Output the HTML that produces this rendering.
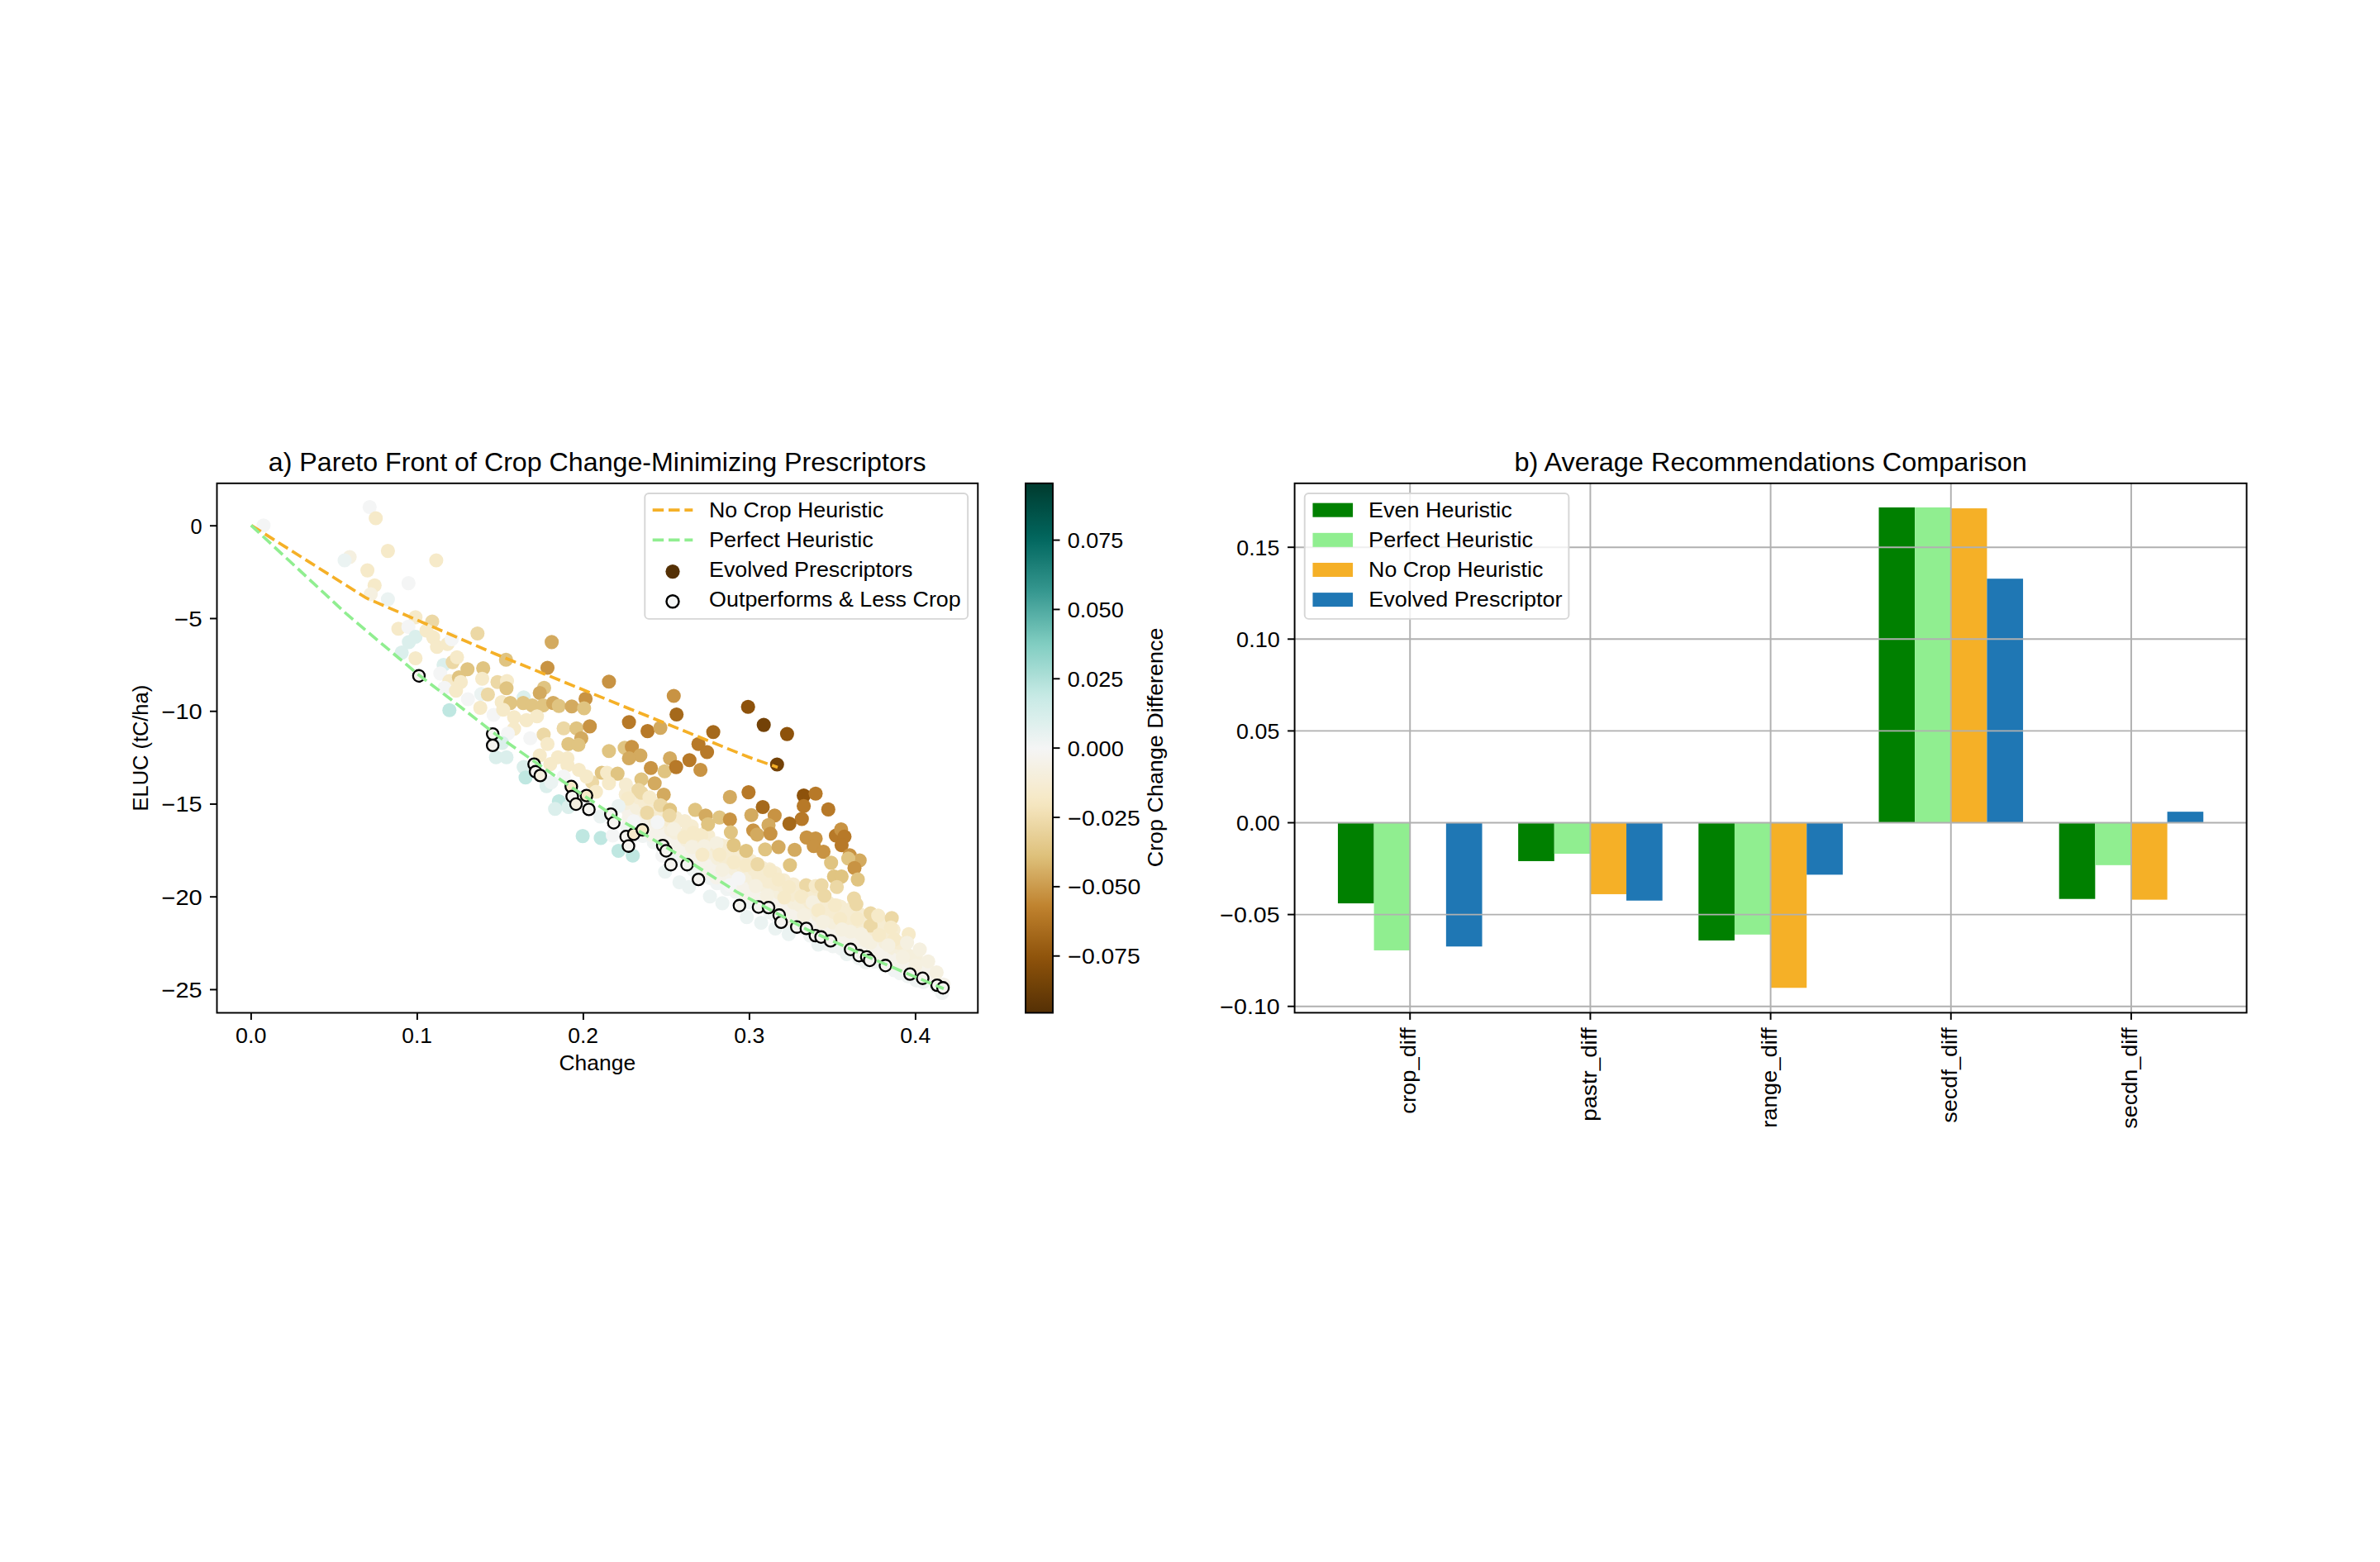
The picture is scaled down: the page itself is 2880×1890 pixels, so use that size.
<!DOCTYPE html><html><head><meta charset="utf-8"><style>html,body{margin:0;padding:0;background:#fff;}svg{display:block;}text{font-family:"Liberation Sans",sans-serif;}</style></head><body>
<svg width="2880" height="1890" viewBox="0 0 2880 1890">
<rect x="0" y="0" width="2880" height="1890" fill="#fff"/>
<defs><clipPath id="c1"><rect x="262.50" y="584.80" width="920.80" height="640.70"/></clipPath>
<linearGradient id="cbg" x1="0" y1="0" x2="0" y2="1"><stop offset="0.0000" stop-color="#003c30"/><stop offset="0.0156" stop-color="#004135"/><stop offset="0.0312" stop-color="#00483d"/><stop offset="0.0469" stop-color="#004e44"/><stop offset="0.0625" stop-color="#01554b"/><stop offset="0.0781" stop-color="#015b52"/><stop offset="0.0938" stop-color="#016259"/><stop offset="0.1094" stop-color="#046961"/><stop offset="0.1250" stop-color="#0c7169"/><stop offset="0.1406" stop-color="#147870"/><stop offset="0.1562" stop-color="#1d8078"/><stop offset="0.1719" stop-color="#258880"/><stop offset="0.1875" stop-color="#2d8f87"/><stop offset="0.2031" stop-color="#35978f"/><stop offset="0.2188" stop-color="#419f97"/><stop offset="0.2344" stop-color="#4da89f"/><stop offset="0.2500" stop-color="#58b0a7"/><stop offset="0.2656" stop-color="#64b9ae"/><stop offset="0.2812" stop-color="#70c1b6"/><stop offset="0.2969" stop-color="#7ccabe"/><stop offset="0.3125" stop-color="#87d0c5"/><stop offset="0.3281" stop-color="#92d4ca"/><stop offset="0.3438" stop-color="#9dd9d0"/><stop offset="0.3594" stop-color="#a8ddd5"/><stop offset="0.3750" stop-color="#b4e2db"/><stop offset="0.3906" stop-color="#bfe7e1"/><stop offset="0.4062" stop-color="#c9eae6"/><stop offset="0.4219" stop-color="#d0ece8"/><stop offset="0.4375" stop-color="#d7eeeb"/><stop offset="0.4531" stop-color="#def0ed"/><stop offset="0.4688" stop-color="#e6f1f0"/><stop offset="0.4844" stop-color="#edf3f2"/><stop offset="0.5000" stop-color="#f4f5f5"/><stop offset="0.5156" stop-color="#f5f3ee"/><stop offset="0.5312" stop-color="#f5f1e6"/><stop offset="0.5469" stop-color="#f5efde"/><stop offset="0.5625" stop-color="#f6edd7"/><stop offset="0.5781" stop-color="#f6ebcf"/><stop offset="0.5938" stop-color="#f6e9c7"/><stop offset="0.6094" stop-color="#f4e5be"/><stop offset="0.6250" stop-color="#f1dfb3"/><stop offset="0.6406" stop-color="#edd9a8"/><stop offset="0.6562" stop-color="#e9d39d"/><stop offset="0.6719" stop-color="#e6cd92"/><stop offset="0.6875" stop-color="#e2c787"/><stop offset="0.7031" stop-color="#dec17b"/><stop offset="0.7188" stop-color="#d9b76f"/><stop offset="0.7344" stop-color="#d4ac62"/><stop offset="0.7500" stop-color="#cfa256"/><stop offset="0.7656" stop-color="#ca9849"/><stop offset="0.7812" stop-color="#c58e3d"/><stop offset="0.7969" stop-color="#c08430"/><stop offset="0.8125" stop-color="#b97b29"/><stop offset="0.8281" stop-color="#b17423"/><stop offset="0.8438" stop-color="#a96c1e"/><stop offset="0.8594" stop-color="#a16518"/><stop offset="0.8750" stop-color="#995d13"/><stop offset="0.8906" stop-color="#91560d"/><stop offset="0.9062" stop-color="#894f0a"/><stop offset="0.9219" stop-color="#804a09"/><stop offset="0.9375" stop-color="#774508"/><stop offset="0.9531" stop-color="#6e4007"/><stop offset="0.9688" stop-color="#663a07"/><stop offset="0.9844" stop-color="#5d3506"/><stop offset="1.0000" stop-color="#543005"/></linearGradient></defs>
<g clip-path="url(#c1)">
<circle cx="758.9" cy="999.6" r="8.55" fill="#f0f4f3"/>
<circle cx="760.9" cy="989.2" r="8.55" fill="#f5f2ea"/>
<circle cx="760.2" cy="980.9" r="8.55" fill="#f5f2ea"/>
<circle cx="757.3" cy="971.8" r="8.55" fill="#f5efdc"/>
<circle cx="757.2" cy="961.3" r="8.55" fill="#f6ecd1"/>
<circle cx="757.4" cy="949.3" r="8.55" fill="#f6ecd1"/>
<circle cx="769.5" cy="1009.7" r="8.55" fill="#f0f4f3"/>
<circle cx="767.7" cy="996.0" r="8.55" fill="#f5f2ea"/>
<circle cx="770.8" cy="990.4" r="8.55" fill="#f5f2ea"/>
<circle cx="770.5" cy="977.1" r="8.55" fill="#f5efdc"/>
<circle cx="772.9" cy="965.0" r="8.55" fill="#f6ecd1"/>
<circle cx="772.2" cy="956.4" r="8.55" fill="#f6ecd1"/>
<circle cx="777.9" cy="1011.4" r="8.55" fill="#f0f4f3"/>
<circle cx="778.9" cy="1005.5" r="8.55" fill="#f5f2ea"/>
<circle cx="778.1" cy="994.1" r="8.55" fill="#f5f2ea"/>
<circle cx="780.8" cy="982.9" r="8.55" fill="#f5efdc"/>
<circle cx="780.3" cy="971.0" r="8.55" fill="#f6ecd1"/>
<circle cx="777.4" cy="961.9" r="8.55" fill="#f6ecd1"/>
<circle cx="791.1" cy="1019.2" r="8.55" fill="#f0f4f3"/>
<circle cx="788.9" cy="1010.1" r="8.55" fill="#f5f2ea"/>
<circle cx="789.7" cy="998.4" r="8.55" fill="#f5f2ea"/>
<circle cx="791.8" cy="990.8" r="8.55" fill="#f5efdc"/>
<circle cx="788.5" cy="980.1" r="8.55" fill="#f6ecd1"/>
<circle cx="790.2" cy="971.9" r="8.55" fill="#f6ecd1"/>
<circle cx="801.4" cy="1024.3" r="8.55" fill="#f0f4f3"/>
<circle cx="802.9" cy="1013.3" r="8.55" fill="#f5f2ea"/>
<circle cx="799.5" cy="1007.1" r="8.55" fill="#f5f2ea"/>
<circle cx="797.9" cy="995.5" r="8.55" fill="#f5efdc"/>
<circle cx="797.2" cy="986.6" r="8.55" fill="#f6ecd1"/>
<circle cx="801.6" cy="976.0" r="8.55" fill="#f6ecd1"/>
<circle cx="812.3" cy="1030.4" r="8.55" fill="#f0f4f3"/>
<circle cx="811.2" cy="1022.1" r="8.55" fill="#f5f2ea"/>
<circle cx="810.5" cy="1011.3" r="8.55" fill="#f5f2ea"/>
<circle cx="812.0" cy="1004.2" r="8.55" fill="#f5efdc"/>
<circle cx="809.8" cy="992.5" r="8.55" fill="#f6ecd1"/>
<circle cx="807.4" cy="982.7" r="8.55" fill="#f6ecd1"/>
<circle cx="820.9" cy="1040.6" r="8.55" fill="#f0f4f3"/>
<circle cx="821.9" cy="1026.4" r="8.55" fill="#f5f2ea"/>
<circle cx="819.3" cy="1018.7" r="8.55" fill="#f5f2ea"/>
<circle cx="817.1" cy="1007.4" r="8.55" fill="#f5efdc"/>
<circle cx="818.0" cy="995.4" r="8.55" fill="#f6ecd1"/>
<circle cx="817.4" cy="989.3" r="8.55" fill="#f6ecd1"/>
<circle cx="827.8" cy="1042.5" r="8.55" fill="#f0f4f3"/>
<circle cx="829.3" cy="1036.2" r="8.55" fill="#f5f2ea"/>
<circle cx="827.5" cy="1023.7" r="8.55" fill="#f5f2ea"/>
<circle cx="830.3" cy="1016.3" r="8.55" fill="#f5efdc"/>
<circle cx="831.9" cy="1006.2" r="8.55" fill="#f6ecd1"/>
<circle cx="828.7" cy="993.5" r="8.55" fill="#f6ecd1"/>
<circle cx="839.2" cy="1052.7" r="8.55" fill="#f0f4f3"/>
<circle cx="842.7" cy="1038.3" r="8.55" fill="#f5f2ea"/>
<circle cx="838.1" cy="1028.8" r="8.55" fill="#f5f2ea"/>
<circle cx="838.4" cy="1020.3" r="8.55" fill="#f5efdc"/>
<circle cx="840.5" cy="1009.0" r="8.55" fill="#f6ecd1"/>
<circle cx="837.0" cy="999.9" r="8.55" fill="#f6ecd1"/>
<circle cx="849.2" cy="1057.1" r="8.55" fill="#f0f4f3"/>
<circle cx="852.7" cy="1047.9" r="8.55" fill="#f5f2ea"/>
<circle cx="850.1" cy="1037.4" r="8.55" fill="#f5f2ea"/>
<circle cx="851.1" cy="1024.1" r="8.55" fill="#f5efdc"/>
<circle cx="852.4" cy="1018.4" r="8.55" fill="#f6ecd1"/>
<circle cx="852.2" cy="1008.5" r="8.55" fill="#f6ecd1"/>
<circle cx="859.4" cy="1062.5" r="8.55" fill="#f0f4f3"/>
<circle cx="857.6" cy="1053.9" r="8.55" fill="#f5f2ea"/>
<circle cx="857.4" cy="1040.5" r="8.55" fill="#f5f2ea"/>
<circle cx="858.3" cy="1031.1" r="8.55" fill="#f5efdc"/>
<circle cx="859.0" cy="1020.4" r="8.55" fill="#f6ecd1"/>
<circle cx="857.0" cy="1011.0" r="8.55" fill="#f6ecd1"/>
<circle cx="867.6" cy="1068.6" r="8.55" fill="#f0f4f3"/>
<circle cx="867.2" cy="1061.7" r="8.55" fill="#f5f2ea"/>
<circle cx="870.7" cy="1047.3" r="8.55" fill="#f5f2ea"/>
<circle cx="868.5" cy="1038.5" r="8.55" fill="#f5efdc"/>
<circle cx="869.2" cy="1027.2" r="8.55" fill="#f6ecd1"/>
<circle cx="872.1" cy="1022.4" r="8.55" fill="#f6ecd1"/>
<circle cx="879.8" cy="1075.7" r="8.55" fill="#f0f4f3"/>
<circle cx="877.5" cy="1063.4" r="8.55" fill="#f5f2ea"/>
<circle cx="879.1" cy="1054.4" r="8.55" fill="#f5f2ea"/>
<circle cx="882.0" cy="1043.8" r="8.55" fill="#f5efdc"/>
<circle cx="877.1" cy="1038.5" r="8.55" fill="#f6ecd1"/>
<circle cx="880.2" cy="1023.7" r="8.55" fill="#f6ecd1"/>
<circle cx="890.3" cy="1079.3" r="8.55" fill="#f0f4f3"/>
<circle cx="890.2" cy="1075.0" r="8.55" fill="#f5f2ea"/>
<circle cx="892.2" cy="1063.4" r="8.55" fill="#f5f2ea"/>
<circle cx="888.6" cy="1051.4" r="8.55" fill="#f5efdc"/>
<circle cx="888.0" cy="1043.8" r="8.55" fill="#f6ecd1"/>
<circle cx="890.2" cy="1033.8" r="8.55" fill="#f6ecd1"/>
<circle cx="899.0" cy="1086.0" r="8.55" fill="#f0f4f3"/>
<circle cx="901.9" cy="1080.6" r="8.55" fill="#f5f2ea"/>
<circle cx="902.1" cy="1069.5" r="8.55" fill="#f5f2ea"/>
<circle cx="901.9" cy="1059.1" r="8.55" fill="#f5efdc"/>
<circle cx="898.4" cy="1047.8" r="8.55" fill="#f6ecd1"/>
<circle cx="899.1" cy="1034.8" r="8.55" fill="#f6ecd1"/>
<circle cx="907.2" cy="1091.7" r="8.55" fill="#f0f4f3"/>
<circle cx="908.6" cy="1084.2" r="8.55" fill="#f5f2ea"/>
<circle cx="912.7" cy="1072.7" r="8.55" fill="#f5f2ea"/>
<circle cx="912.6" cy="1066.0" r="8.55" fill="#f5efdc"/>
<circle cx="912.7" cy="1052.2" r="8.55" fill="#f6ecd1"/>
<circle cx="908.3" cy="1041.4" r="8.55" fill="#f6ecd1"/>
<circle cx="918.2" cy="1096.6" r="8.55" fill="#f0f4f3"/>
<circle cx="920.7" cy="1090.8" r="8.55" fill="#f5f2ea"/>
<circle cx="922.0" cy="1078.3" r="8.55" fill="#f5f2ea"/>
<circle cx="920.9" cy="1070.2" r="8.55" fill="#f5efdc"/>
<circle cx="917.5" cy="1059.4" r="8.55" fill="#f6ecd1"/>
<circle cx="922.5" cy="1050.1" r="8.55" fill="#f6ecd1"/>
<circle cx="931.5" cy="1103.6" r="8.55" fill="#f0f4f3"/>
<circle cx="928.1" cy="1095.5" r="8.55" fill="#f5f2ea"/>
<circle cx="929.0" cy="1085.6" r="8.55" fill="#f5f2ea"/>
<circle cx="932.8" cy="1073.1" r="8.55" fill="#f5efdc"/>
<circle cx="929.4" cy="1066.4" r="8.55" fill="#f6ecd1"/>
<circle cx="931.3" cy="1051.8" r="8.55" fill="#f6ecd1"/>
<circle cx="937.8" cy="1107.0" r="8.55" fill="#f0f4f3"/>
<circle cx="942.4" cy="1101.0" r="8.55" fill="#f5f2ea"/>
<circle cx="937.9" cy="1091.1" r="8.55" fill="#f5f2ea"/>
<circle cx="942.9" cy="1080.1" r="8.55" fill="#f5efdc"/>
<circle cx="939.1" cy="1069.4" r="8.55" fill="#f6ecd1"/>
<circle cx="937.8" cy="1056.2" r="8.55" fill="#f6ecd1"/>
<circle cx="952.8" cy="1115.4" r="8.55" fill="#f0f4f3"/>
<circle cx="950.2" cy="1107.1" r="8.55" fill="#f5f2ea"/>
<circle cx="949.6" cy="1096.7" r="8.55" fill="#f5f2ea"/>
<circle cx="952.0" cy="1082.8" r="8.55" fill="#f5efdc"/>
<circle cx="948.5" cy="1073.2" r="8.55" fill="#f6ecd1"/>
<circle cx="948.4" cy="1065.0" r="8.55" fill="#f6ecd1"/>
<circle cx="958.6" cy="1119.4" r="8.55" fill="#f0f4f3"/>
<circle cx="957.8" cy="1112.3" r="8.55" fill="#f5f2ea"/>
<circle cx="959.1" cy="1099.6" r="8.55" fill="#f5f2ea"/>
<circle cx="960.5" cy="1092.3" r="8.55" fill="#f5efdc"/>
<circle cx="959.5" cy="1082.4" r="8.55" fill="#f6ecd1"/>
<circle cx="960.0" cy="1070.0" r="8.55" fill="#f6ecd1"/>
<circle cx="970.1" cy="1122.3" r="8.55" fill="#f0f4f3"/>
<circle cx="969.6" cy="1113.3" r="8.55" fill="#f5f2ea"/>
<circle cx="967.0" cy="1107.0" r="8.55" fill="#f5f2ea"/>
<circle cx="968.0" cy="1095.1" r="8.55" fill="#f5efdc"/>
<circle cx="971.4" cy="1085.6" r="8.55" fill="#f6ecd1"/>
<circle cx="969.0" cy="1075.3" r="8.55" fill="#f6ecd1"/>
<circle cx="980.3" cy="1132.0" r="8.55" fill="#f0f4f3"/>
<circle cx="977.6" cy="1120.6" r="8.55" fill="#f5f2ea"/>
<circle cx="978.5" cy="1108.9" r="8.55" fill="#f5f2ea"/>
<circle cx="981.6" cy="1100.3" r="8.55" fill="#f5efdc"/>
<circle cx="980.4" cy="1091.8" r="8.55" fill="#f6ecd1"/>
<circle cx="982.5" cy="1079.9" r="8.55" fill="#f6ecd1"/>
<circle cx="990.7" cy="1134.8" r="8.55" fill="#f0f4f3"/>
<circle cx="990.1" cy="1125.9" r="8.55" fill="#f5f2ea"/>
<circle cx="989.7" cy="1114.9" r="8.55" fill="#f5f2ea"/>
<circle cx="989.9" cy="1107.4" r="8.55" fill="#f5efdc"/>
<circle cx="991.2" cy="1097.0" r="8.55" fill="#f6ecd1"/>
<circle cx="992.7" cy="1083.3" r="8.55" fill="#f6ecd1"/>
<circle cx="1000.4" cy="1141.9" r="8.55" fill="#f0f4f3"/>
<circle cx="1002.0" cy="1127.0" r="8.55" fill="#f5f2ea"/>
<circle cx="997.7" cy="1118.8" r="8.55" fill="#f5f2ea"/>
<circle cx="997.4" cy="1107.6" r="8.55" fill="#f5efdc"/>
<circle cx="997.4" cy="1100.2" r="8.55" fill="#f6ecd1"/>
<circle cx="1001.7" cy="1091.6" r="8.55" fill="#f6ecd1"/>
<circle cx="1007.9" cy="1145.0" r="8.55" fill="#f0f4f3"/>
<circle cx="1011.0" cy="1131.5" r="8.55" fill="#f5f2ea"/>
<circle cx="1012.3" cy="1126.5" r="8.55" fill="#f5f2ea"/>
<circle cx="1008.3" cy="1116.4" r="8.55" fill="#f5efdc"/>
<circle cx="1009.4" cy="1103.6" r="8.55" fill="#f6ecd1"/>
<circle cx="1012.9" cy="1095.7" r="8.55" fill="#f6ecd1"/>
<circle cx="1018.0" cy="1147.7" r="8.55" fill="#f0f4f3"/>
<circle cx="1020.1" cy="1137.2" r="8.55" fill="#f5f2ea"/>
<circle cx="1018.2" cy="1127.0" r="8.55" fill="#f5f2ea"/>
<circle cx="1021.3" cy="1115.2" r="8.55" fill="#f5efdc"/>
<circle cx="1020.3" cy="1107.8" r="8.55" fill="#f6ecd1"/>
<circle cx="1017.1" cy="1097.1" r="8.55" fill="#f6ecd1"/>
<circle cx="1030.7" cy="1152.7" r="8.55" fill="#f0f4f3"/>
<circle cx="1027.4" cy="1145.5" r="8.55" fill="#f5f2ea"/>
<circle cx="1031.7" cy="1135.4" r="8.55" fill="#f5f2ea"/>
<circle cx="1027.6" cy="1121.2" r="8.55" fill="#f5efdc"/>
<circle cx="1027.2" cy="1114.3" r="8.55" fill="#f6ecd1"/>
<circle cx="1028.6" cy="1100.4" r="8.55" fill="#f6ecd1"/>
<circle cx="1039.5" cy="1159.5" r="8.55" fill="#f0f4f3"/>
<circle cx="1041.9" cy="1145.6" r="8.55" fill="#f5f2ea"/>
<circle cx="1037.9" cy="1139.6" r="8.55" fill="#f5f2ea"/>
<circle cx="1040.4" cy="1128.3" r="8.55" fill="#f5efdc"/>
<circle cx="1037.5" cy="1114.4" r="8.55" fill="#f6ecd1"/>
<circle cx="1041.1" cy="1106.6" r="8.55" fill="#f6ecd1"/>
<circle cx="1047.4" cy="1164.2" r="8.55" fill="#f0f4f3"/>
<circle cx="1050.8" cy="1153.3" r="8.55" fill="#f5f2ea"/>
<circle cx="1047.5" cy="1143.7" r="8.55" fill="#f5f2ea"/>
<circle cx="1047.4" cy="1133.7" r="8.55" fill="#f5efdc"/>
<circle cx="1049.7" cy="1120.6" r="8.55" fill="#f6ecd1"/>
<circle cx="1050.3" cy="1114.1" r="8.55" fill="#f6ecd1"/>
<circle cx="1058.6" cy="1163.6" r="8.55" fill="#f0f4f3"/>
<circle cx="1060.2" cy="1154.3" r="8.55" fill="#f5f2ea"/>
<circle cx="1057.7" cy="1143.8" r="8.55" fill="#f5f2ea"/>
<circle cx="1057.3" cy="1134.1" r="8.55" fill="#f5efdc"/>
<circle cx="1058.9" cy="1124.7" r="8.55" fill="#f6ecd1"/>
<circle cx="1061.6" cy="1114.6" r="8.55" fill="#f6ecd1"/>
<circle cx="1070.0" cy="1168.2" r="8.55" fill="#f0f4f3"/>
<circle cx="1069.1" cy="1157.2" r="8.55" fill="#f5f2ea"/>
<circle cx="1068.5" cy="1147.2" r="8.55" fill="#f5f2ea"/>
<circle cx="1071.4" cy="1140.4" r="8.55" fill="#f5efdc"/>
<circle cx="1068.1" cy="1130.0" r="8.55" fill="#f6ecd1"/>
<circle cx="1072.6" cy="1117.8" r="8.55" fill="#f6ecd1"/>
<circle cx="1081.9" cy="1174.0" r="8.55" fill="#f0f4f3"/>
<circle cx="1080.0" cy="1166.4" r="8.55" fill="#f5f2ea"/>
<circle cx="1079.4" cy="1154.4" r="8.55" fill="#f5f2ea"/>
<circle cx="1081.1" cy="1147.3" r="8.55" fill="#f5efdc"/>
<circle cx="1079.1" cy="1136.4" r="8.55" fill="#f6ecd1"/>
<circle cx="1081.2" cy="1125.2" r="8.55" fill="#f6ecd1"/>
<circle cx="1089.4" cy="1177.7" r="8.55" fill="#f0f4f3"/>
<circle cx="1087.3" cy="1166.4" r="8.55" fill="#f5f2ea"/>
<circle cx="1087.4" cy="1160.1" r="8.55" fill="#f5f2ea"/>
<circle cx="1088.5" cy="1146.6" r="8.55" fill="#f5efdc"/>
<circle cx="1087.5" cy="1140.7" r="8.55" fill="#f6ecd1"/>
<circle cx="1098.7" cy="1181.3" r="8.55" fill="#f0f4f3"/>
<circle cx="1098.8" cy="1172.6" r="8.55" fill="#f5f2ea"/>
<circle cx="1097.9" cy="1162.6" r="8.55" fill="#f5f2ea"/>
<circle cx="1098.6" cy="1155.6" r="8.55" fill="#f5efdc"/>
<circle cx="1108.9" cy="1186.2" r="8.55" fill="#f0f4f3"/>
<circle cx="1107.0" cy="1176.3" r="8.55" fill="#f5f2ea"/>
<circle cx="1109.8" cy="1167.1" r="8.55" fill="#f5f2ea"/>
<circle cx="1108.2" cy="1157.1" r="8.55" fill="#f5efdc"/>
<circle cx="1117.3" cy="1188.3" r="8.55" fill="#f0f4f3"/>
<circle cx="1118.8" cy="1179.6" r="8.55" fill="#f5f2ea"/>
<circle cx="1120.5" cy="1171.4" r="8.55" fill="#f5f2ea"/>
<circle cx="1132.9" cy="1193.2" r="8.55" fill="#f0f4f3"/>
<circle cx="1131.3" cy="1186.2" r="8.55" fill="#f5f2ea"/>
<circle cx="1127.3" cy="1177.3" r="8.55" fill="#f5f2ea"/>
<circle cx="1140.0" cy="1201.5" r="8.55" fill="#f0f4f3"/>
<circle cx="1141.8" cy="1191.4" r="8.55" fill="#f5f2ea"/>
<circle cx="318.9" cy="635.7" r="8.55" fill="#f4f5f5"/>
<circle cx="447.3" cy="613.5" r="8.55" fill="#f4f5f5"/>
<circle cx="454.7" cy="627.0" r="8.55" fill="#f6eac9"/>
<circle cx="469.4" cy="666.6" r="8.55" fill="#f6eac9"/>
<circle cx="423.1" cy="674.0" r="8.55" fill="#f5f0e0"/>
<circle cx="417.0" cy="678.0" r="8.55" fill="#ebf3f2"/>
<circle cx="527.9" cy="678.0" r="8.55" fill="#f6eac9"/>
<circle cx="444.6" cy="690.1" r="8.55" fill="#f6eac9"/>
<circle cx="494.3" cy="705.6" r="8.55" fill="#f4f5f5"/>
<circle cx="453.3" cy="708.3" r="8.55" fill="#f6eac9"/>
<circle cx="448.6" cy="719.0" r="8.55" fill="#f5f0e0"/>
<circle cx="469.4" cy="725.1" r="8.55" fill="#ebf3f2"/>
<circle cx="502.8" cy="746.9" r="8.55" fill="#f6eac9"/>
<circle cx="523.0" cy="752.1" r="8.55" fill="#ecd8a5"/>
<circle cx="482.1" cy="760.7" r="8.55" fill="#f6eac9"/>
<circle cx="494.2" cy="758.4" r="8.55" fill="#f4f5f5"/>
<circle cx="502.8" cy="770.5" r="8.55" fill="#dbefec"/>
<circle cx="494.8" cy="776.9" r="8.55" fill="#dbefec"/>
<circle cx="486.1" cy="789.6" r="8.55" fill="#dbefec"/>
<circle cx="516.1" cy="763.0" r="8.55" fill="#f6eac9"/>
<circle cx="524.2" cy="771.1" r="8.55" fill="#f6eac9"/>
<circle cx="528.8" cy="782.6" r="8.55" fill="#f6eac9"/>
<circle cx="541.5" cy="779.2" r="8.55" fill="#f6eac9"/>
<circle cx="546.6" cy="773.4" r="8.55" fill="#f4f5f5"/>
<circle cx="502.8" cy="796.5" r="8.55" fill="#f6eac9"/>
<circle cx="577.8" cy="766.5" r="8.55" fill="#ecd8a5"/>
<circle cx="667.6" cy="776.9" r="8.55" fill="#d3aa5f"/>
<circle cx="612.3" cy="798.2" r="8.55" fill="#e0c481"/>
<circle cx="662.5" cy="808.0" r="8.55" fill="#c89343"/>
<circle cx="536.8" cy="804.5" r="8.55" fill="#dbefec"/>
<circle cx="547.8" cy="801.1" r="8.55" fill="#ecd8a5"/>
<circle cx="553.0" cy="795.3" r="8.55" fill="#f6eac9"/>
<circle cx="565.7" cy="809.7" r="8.55" fill="#e0c481"/>
<circle cx="584.7" cy="808.6" r="8.55" fill="#e0c481"/>
<circle cx="532.8" cy="814.9" r="8.55" fill="#f4f5f5"/>
<circle cx="543.8" cy="824.1" r="8.55" fill="#f6eac9"/>
<circle cx="555.3" cy="819.5" r="8.55" fill="#e0c481"/>
<circle cx="557.6" cy="825.3" r="8.55" fill="#f6eac9"/>
<circle cx="583.5" cy="821.2" r="8.55" fill="#f6eac9"/>
<circle cx="602.0" cy="825.3" r="8.55" fill="#ecd8a5"/>
<circle cx="613.5" cy="824.1" r="8.55" fill="#f6eac9"/>
<circle cx="612.9" cy="832.8" r="8.55" fill="#e0c481"/>
<circle cx="658.4" cy="832.2" r="8.55" fill="#e0c481"/>
<circle cx="653.2" cy="838.5" r="8.55" fill="#d3aa5f"/>
<circle cx="538.0" cy="832.2" r="8.55" fill="#f4f5f5"/>
<circle cx="551.8" cy="835.7" r="8.55" fill="#f6eac9"/>
<circle cx="582.4" cy="839.7" r="8.55" fill="#ebf3f2"/>
<circle cx="590.4" cy="840.3" r="8.55" fill="#ecd8a5"/>
<circle cx="566.2" cy="846.0" r="8.55" fill="#f4f5f5"/>
<circle cx="581.2" cy="856.4" r="8.55" fill="#f6eac9"/>
<circle cx="607.1" cy="849.5" r="8.55" fill="#f6eac9"/>
<circle cx="617.5" cy="850.6" r="8.55" fill="#e0c481"/>
<circle cx="633.7" cy="843.7" r="8.55" fill="#dbefec"/>
<circle cx="633.1" cy="850.6" r="8.55" fill="#e0c481"/>
<circle cx="644.0" cy="853.5" r="8.55" fill="#e0c481"/>
<circle cx="657.3" cy="853.5" r="8.55" fill="#e0c481"/>
<circle cx="669.4" cy="850.6" r="8.55" fill="#d3aa5f"/>
<circle cx="676.3" cy="854.1" r="8.55" fill="#e0c481"/>
<circle cx="691.9" cy="854.7" r="8.55" fill="#d3aa5f"/>
<circle cx="708.6" cy="845.5" r="8.55" fill="#c89343"/>
<circle cx="706.8" cy="857.0" r="8.55" fill="#e0c481"/>
<circle cx="543.8" cy="859.3" r="8.55" fill="#bfe7e1"/>
<circle cx="597.3" cy="865.0" r="8.55" fill="#f4f5f5"/>
<circle cx="608.9" cy="858.7" r="8.55" fill="#f6eac9"/>
<circle cx="622.1" cy="867.9" r="8.55" fill="#f6eac9"/>
<circle cx="637.1" cy="871.4" r="8.55" fill="#f6eac9"/>
<circle cx="649.8" cy="866.8" r="8.55" fill="#f6eac9"/>
<circle cx="622.1" cy="881.8" r="8.55" fill="#f6eac9"/>
<circle cx="614.6" cy="887.5" r="8.55" fill="#f4f5f5"/>
<circle cx="641.7" cy="893.3" r="8.55" fill="#f4f5f5"/>
<circle cx="657.9" cy="888.7" r="8.55" fill="#ecd8a5"/>
<circle cx="662.5" cy="900.2" r="8.55" fill="#f6eac9"/>
<circle cx="682.1" cy="881.2" r="8.55" fill="#ecd8a5"/>
<circle cx="697.6" cy="881.2" r="8.55" fill="#e0c481"/>
<circle cx="713.7" cy="878.9" r="8.55" fill="#c89343"/>
<circle cx="703.4" cy="893.3" r="8.55" fill="#d3aa5f"/>
<circle cx="687.8" cy="900.2" r="8.55" fill="#e0c481"/>
<circle cx="699.9" cy="901.3" r="8.55" fill="#e0c481"/>
<circle cx="600.2" cy="916.3" r="8.55" fill="#dbefec"/>
<circle cx="612.9" cy="916.3" r="8.55" fill="#dbefec"/>
<circle cx="607.7" cy="899.0" r="8.55" fill="#dbefec"/>
<circle cx="653.2" cy="914.0" r="8.55" fill="#f6eac9"/>
<circle cx="675.1" cy="916.3" r="8.55" fill="#f6eac9"/>
<circle cx="686.7" cy="917.5" r="8.55" fill="#f6eac9"/>
<circle cx="736.9" cy="824.7" r="8.55" fill="#c89343"/>
<circle cx="815.3" cy="842.0" r="8.55" fill="#c89343"/>
<circle cx="818.7" cy="864.5" r="8.55" fill="#a5691b"/>
<circle cx="761.1" cy="873.7" r="8.55" fill="#b77928"/>
<circle cx="783.6" cy="884.6" r="8.55" fill="#b77928"/>
<circle cx="799.1" cy="880.6" r="8.55" fill="#d3aa5f"/>
<circle cx="905.2" cy="855.2" r="8.55" fill="#8d520b"/>
<circle cx="924.2" cy="877.1" r="8.55" fill="#734208"/>
<circle cx="952.4" cy="888.1" r="8.55" fill="#8d520b"/>
<circle cx="863.1" cy="885.8" r="8.55" fill="#a5691b"/>
<circle cx="845.2" cy="900.2" r="8.55" fill="#b77928"/>
<circle cx="855.6" cy="910.0" r="8.55" fill="#b77928"/>
<circle cx="736.9" cy="908.8" r="8.55" fill="#e0c481"/>
<circle cx="755.9" cy="904.8" r="8.55" fill="#e0c481"/>
<circle cx="764.6" cy="903.7" r="8.55" fill="#c89343"/>
<circle cx="774.9" cy="914.0" r="8.55" fill="#d3aa5f"/>
<circle cx="761.1" cy="917.5" r="8.55" fill="#d3aa5f"/>
<circle cx="810.7" cy="917.5" r="8.55" fill="#d3aa5f"/>
<circle cx="834.3" cy="919.8" r="8.55" fill="#b77928"/>
<circle cx="940.3" cy="925.0" r="8.55" fill="#734208"/>
<circle cx="633.7" cy="928.1" r="8.55" fill="#dbefec"/>
<circle cx="636.0" cy="940.7" r="8.55" fill="#bfe7e1"/>
<circle cx="661.3" cy="951.1" r="8.55" fill="#dbefec"/>
<circle cx="676.3" cy="969.6" r="8.55" fill="#bfe7e1"/>
<circle cx="671.7" cy="978.8" r="8.55" fill="#dbefec"/>
<circle cx="687.8" cy="976.5" r="8.55" fill="#dbefec"/>
<circle cx="705.1" cy="1011.6" r="8.55" fill="#bfe7e1"/>
<circle cx="727.0" cy="1013.9" r="8.55" fill="#bfe7e1"/>
<circle cx="726.4" cy="988.0" r="8.55" fill="#ebf3f2"/>
<circle cx="665.9" cy="924.6" r="8.55" fill="#f6eac9"/>
<circle cx="686.7" cy="925.8" r="8.55" fill="#f6eac9"/>
<circle cx="700.5" cy="931.5" r="8.55" fill="#f6eac9"/>
<circle cx="716.6" cy="946.5" r="8.55" fill="#ecd8a5"/>
<circle cx="728.2" cy="935.0" r="8.55" fill="#e0c481"/>
<circle cx="682.1" cy="939.6" r="8.55" fill="#f4f5f5"/>
<circle cx="721.2" cy="958.0" r="8.55" fill="#f6eac9"/>
<circle cx="709.7" cy="939.6" r="8.55" fill="#f6eac9"/>
<circle cx="667.1" cy="946.5" r="8.55" fill="#ebf3f2"/>
<circle cx="734.6" cy="935.0" r="8.55" fill="#f6eac9"/>
<circle cx="747.3" cy="936.1" r="8.55" fill="#e0c481"/>
<circle cx="736.9" cy="947.7" r="8.55" fill="#f6eac9"/>
<circle cx="776.1" cy="943.0" r="8.55" fill="#e0c481"/>
<circle cx="787.6" cy="929.2" r="8.55" fill="#c89343"/>
<circle cx="804.3" cy="933.3" r="8.55" fill="#e0c481"/>
<circle cx="818.2" cy="928.1" r="8.55" fill="#b77928"/>
<circle cx="847.6" cy="931.5" r="8.55" fill="#c89343"/>
<circle cx="792.2" cy="947.7" r="8.55" fill="#d3aa5f"/>
<circle cx="772.6" cy="955.7" r="8.55" fill="#ecd8a5"/>
<circle cx="760.0" cy="966.1" r="8.55" fill="#f6eac9"/>
<circle cx="776.1" cy="959.2" r="8.55" fill="#ecd8a5"/>
<circle cx="785.9" cy="964.9" r="8.55" fill="#f6eac9"/>
<circle cx="803.2" cy="961.5" r="8.55" fill="#d3aa5f"/>
<circle cx="799.1" cy="974.2" r="8.55" fill="#ecd8a5"/>
<circle cx="810.7" cy="979.9" r="8.55" fill="#e0c481"/>
<circle cx="810.1" cy="986.8" r="8.55" fill="#ecd8a5"/>
<circle cx="783.0" cy="983.4" r="8.55" fill="#ecd8a5"/>
<circle cx="748.4" cy="975.3" r="8.55" fill="#ebf3f2"/>
<circle cx="766.9" cy="993.8" r="8.55" fill="#f4f5f5"/>
<circle cx="795.7" cy="994.9" r="8.55" fill="#f4f5f5"/>
<circle cx="815.3" cy="1003.0" r="8.55" fill="#f5f0e0"/>
<circle cx="883.3" cy="964.4" r="8.55" fill="#d3aa5f"/>
<circle cx="905.8" cy="958.6" r="8.55" fill="#b77928"/>
<circle cx="923.0" cy="976.5" r="8.55" fill="#a5691b"/>
<circle cx="972.6" cy="962.6" r="8.55" fill="#8d520b"/>
<circle cx="987.0" cy="960.3" r="8.55" fill="#b77928"/>
<circle cx="972.6" cy="975.3" r="8.55" fill="#b77928"/>
<circle cx="909.2" cy="986.3" r="8.55" fill="#d3aa5f"/>
<circle cx="937.4" cy="986.8" r="8.55" fill="#c89343"/>
<circle cx="970.3" cy="990.9" r="8.55" fill="#b77928"/>
<circle cx="955.3" cy="996.6" r="8.55" fill="#a5691b"/>
<circle cx="841.2" cy="979.9" r="8.55" fill="#e0c481"/>
<circle cx="853.9" cy="986.8" r="8.55" fill="#d3aa5f"/>
<circle cx="870.6" cy="989.1" r="8.55" fill="#e0c481"/>
<circle cx="883.3" cy="991.5" r="8.55" fill="#c89343"/>
<circle cx="856.8" cy="997.2" r="8.55" fill="#e0c481"/>
<circle cx="884.4" cy="1007.0" r="8.55" fill="#e0c481"/>
<circle cx="911.5" cy="1004.7" r="8.55" fill="#c89343"/>
<circle cx="916.1" cy="1009.9" r="8.55" fill="#d3aa5f"/>
<circle cx="930.0" cy="998.4" r="8.55" fill="#d3aa5f"/>
<circle cx="932.3" cy="1008.7" r="8.55" fill="#c89343"/>
<circle cx="976.1" cy="1013.4" r="8.55" fill="#c89343"/>
<circle cx="987.0" cy="1014.5" r="8.55" fill="#c89343"/>
<circle cx="984.7" cy="1023.7" r="8.55" fill="#c89343"/>
<circle cx="828.0" cy="1012.8" r="8.55" fill="#f6eac9"/>
<circle cx="838.9" cy="1007.6" r="8.55" fill="#f6eac9"/>
<circle cx="848.7" cy="1011.0" r="8.55" fill="#f6eac9"/>
<circle cx="867.1" cy="1020.3" r="8.55" fill="#f5f0e0"/>
<circle cx="852.2" cy="1023.7" r="8.55" fill="#f5f0e0"/>
<circle cx="837.2" cy="1024.9" r="8.55" fill="#f5f0e0"/>
<circle cx="887.9" cy="1022.6" r="8.55" fill="#e0c481"/>
<circle cx="902.9" cy="1029.5" r="8.55" fill="#e0c481"/>
<circle cx="925.9" cy="1027.8" r="8.55" fill="#e0c481"/>
<circle cx="942.1" cy="1024.9" r="8.55" fill="#d3aa5f"/>
<circle cx="961.6" cy="1028.3" r="8.55" fill="#d3aa5f"/>
<circle cx="870.6" cy="1034.1" r="8.55" fill="#f6eac9"/>
<circle cx="849.9" cy="1034.1" r="8.55" fill="#f6eac9"/>
<circle cx="887.9" cy="1043.3" r="8.55" fill="#f6eac9"/>
<circle cx="902.9" cy="1046.8" r="8.55" fill="#f6eac9"/>
<circle cx="916.7" cy="1045.6" r="8.55" fill="#ecd8a5"/>
<circle cx="931.7" cy="1053.7" r="8.55" fill="#f6eac9"/>
<circle cx="955.9" cy="1046.8" r="8.55" fill="#e0c481"/>
<circle cx="942.1" cy="1064.1" r="8.55" fill="#f6eac9"/>
<circle cx="874.1" cy="1052.5" r="8.55" fill="#f5f0e0"/>
<circle cx="893.7" cy="1062.9" r="8.55" fill="#f4f5f5"/>
<circle cx="883.3" cy="1071.0" r="8.55" fill="#f4f5f5"/>
<circle cx="914.4" cy="1072.1" r="8.55" fill="#f5f0e0"/>
<circle cx="954.7" cy="1073.3" r="8.55" fill="#f6eac9"/>
<circle cx="975.5" cy="1071.0" r="8.55" fill="#ecd8a5"/>
<circle cx="987.0" cy="1072.1" r="8.55" fill="#f6eac9"/>
<circle cx="928.2" cy="1083.7" r="8.55" fill="#f5f0e0"/>
<circle cx="949.0" cy="1086.0" r="8.55" fill="#f6eac9"/>
<circle cx="969.7" cy="1084.8" r="8.55" fill="#f6eac9"/>
<circle cx="983.5" cy="1091.7" r="8.55" fill="#f5f0e0"/>
<circle cx="748.4" cy="1029.5" r="8.55" fill="#bfe7e1"/>
<circle cx="765.7" cy="1035.2" r="8.55" fill="#bfe7e1"/>
<circle cx="804.9" cy="1054.8" r="8.55" fill="#ebf3f2"/>
<circle cx="822.2" cy="1067.5" r="8.55" fill="#ebf3f2"/>
<circle cx="833.7" cy="1073.3" r="8.55" fill="#ebf3f2"/>
<circle cx="859.1" cy="1084.8" r="8.55" fill="#ebf3f2"/>
<circle cx="874.1" cy="1092.9" r="8.55" fill="#ebf3f2"/>
<circle cx="801.5" cy="1035.2" r="8.55" fill="#f4f5f5"/>
<circle cx="741.5" cy="1011.0" r="8.55" fill="#f4f5f5"/>
<circle cx="1002.3" cy="979.4" r="8.55" fill="#b77928"/>
<circle cx="996.5" cy="1030.6" r="8.55" fill="#c89343"/>
<circle cx="1011.5" cy="1011.0" r="8.55" fill="#b77928"/>
<circle cx="1017.8" cy="1003.6" r="8.55" fill="#c89343"/>
<circle cx="1021.9" cy="1012.2" r="8.55" fill="#b77928"/>
<circle cx="1018.4" cy="1022.6" r="8.55" fill="#b77928"/>
<circle cx="1028.2" cy="1034.7" r="8.55" fill="#c89343"/>
<circle cx="1040.3" cy="1041.0" r="8.55" fill="#d3aa5f"/>
<circle cx="1026.5" cy="1038.7" r="8.55" fill="#e0c481"/>
<circle cx="1034.0" cy="1050.2" r="8.55" fill="#c89343"/>
<circle cx="1005.7" cy="1043.9" r="8.55" fill="#e0c481"/>
<circle cx="1009.2" cy="1060.6" r="8.55" fill="#e0c481"/>
<circle cx="1018.4" cy="1060.6" r="8.55" fill="#e0c481"/>
<circle cx="1038.0" cy="1064.1" r="8.55" fill="#e0c481"/>
<circle cx="1012.6" cy="1073.3" r="8.55" fill="#ecd8a5"/>
<circle cx="997.7" cy="1083.7" r="8.55" fill="#ecd8a5"/>
<circle cx="1033.4" cy="1087.1" r="8.55" fill="#ecd8a5"/>
<circle cx="1036.3" cy="1094.0" r="8.55" fill="#ecd8a5"/>
<circle cx="1010.3" cy="1095.2" r="8.55" fill="#f6eac9"/>
<circle cx="903.7" cy="1109.6" r="8.55" fill="#ebf3f2"/>
<circle cx="921.0" cy="1116.5" r="8.55" fill="#ebf3f2"/>
<circle cx="938.3" cy="1123.4" r="8.55" fill="#ebf3f2"/>
<circle cx="954.4" cy="1130.3" r="8.55" fill="#ebf3f2"/>
<circle cx="990.2" cy="1143.0" r="8.55" fill="#ebf3f2"/>
<circle cx="1024.7" cy="1154.5" r="8.55" fill="#ebf3f2"/>
<circle cx="990.2" cy="1101.5" r="8.55" fill="#f6eac9"/>
<circle cx="1016.7" cy="1111.9" r="8.55" fill="#f6eac9"/>
<circle cx="995.9" cy="1115.4" r="8.55" fill="#f5f0e0"/>
<circle cx="1037.4" cy="1111.9" r="8.55" fill="#f6eac9"/>
<circle cx="1053.5" cy="1120.0" r="8.55" fill="#ecd8a5"/>
<circle cx="1019.0" cy="1124.6" r="8.55" fill="#f5f0e0"/>
<circle cx="1042.0" cy="1130.3" r="8.55" fill="#f5f0e0"/>
<circle cx="1053.5" cy="1105.0" r="8.55" fill="#ecd8a5"/>
<circle cx="972.9" cy="1107.3" r="8.55" fill="#f5f0e0"/>
<circle cx="1053.5" cy="1140.7" r="8.55" fill="#f5f0e0"/>
<circle cx="994.1" cy="1071.0" r="8.55" fill="#ecd8a5"/>
<circle cx="1062.7" cy="1107.9" r="8.55" fill="#f6eac9"/>
<circle cx="1079.1" cy="1110.9" r="8.55" fill="#ecd8a5"/>
<circle cx="1078.1" cy="1122.2" r="8.55" fill="#f6eac9"/>
<circle cx="1099.6" cy="1130.4" r="8.55" fill="#f6eac9"/>
<circle cx="1063.8" cy="1131.4" r="8.55" fill="#f6eac9"/>
<circle cx="1082.2" cy="1136.6" r="8.55" fill="#f6eac9"/>
<circle cx="1097.6" cy="1140.7" r="8.55" fill="#f5f0e0"/>
<circle cx="1113.0" cy="1148.9" r="8.55" fill="#f5f0e0"/>
<circle cx="1123.2" cy="1163.2" r="8.55" fill="#f5f0e0"/>
<circle cx="1133.4" cy="1176.5" r="8.55" fill="#f5f0e0"/>
<circle cx="1075.0" cy="1143.7" r="8.55" fill="#f5f0e0"/>
<circle cx="1047.4" cy="1137.6" r="8.55" fill="#f5f0e0"/>
<circle cx="1028.9" cy="1127.3" r="8.55" fill="#f5f0e0"/>
<circle cx="1092.5" cy="1158.1" r="8.55" fill="#f5f0e0"/>
<circle cx="1107.8" cy="1168.3" r="8.55" fill="#f5f0e0"/>
<circle cx="506.9" cy="817.8" r="7.07" fill="#f5f4f0" stroke="#000" stroke-width="2.3"/>
<circle cx="596.2" cy="888.1" r="7.07" fill="#f5f4f0" stroke="#000" stroke-width="2.3"/>
<circle cx="596.2" cy="901.9" r="7.07" fill="#f5f4f0" stroke="#000" stroke-width="2.3"/>
<circle cx="646.3" cy="924.6" r="7.07" fill="#f5f4f0" stroke="#000" stroke-width="2.3"/>
<circle cx="648.1" cy="933.8" r="7.07" fill="#f5f4f0" stroke="#000" stroke-width="2.3"/>
<circle cx="653.8" cy="938.4" r="7.07" fill="#f5f0e0" stroke="#000" stroke-width="2.3"/>
<circle cx="691.3" cy="951.7" r="7.07" fill="#f6eac9" stroke="#000" stroke-width="2.3"/>
<circle cx="692.4" cy="963.8" r="7.07" fill="#f5f4f0" stroke="#000" stroke-width="2.3"/>
<circle cx="709.7" cy="962.6" r="7.07" fill="#f6eac9" stroke="#000" stroke-width="2.3"/>
<circle cx="697.0" cy="973.0" r="7.07" fill="#f5f0e0" stroke="#000" stroke-width="2.3"/>
<circle cx="712.6" cy="979.4" r="7.07" fill="#f5f4f0" stroke="#000" stroke-width="2.3"/>
<circle cx="739.2" cy="985.1" r="7.07" fill="#f5f4f0" stroke="#000" stroke-width="2.3"/>
<circle cx="742.7" cy="995.5" r="7.07" fill="#f5f4f0" stroke="#000" stroke-width="2.3"/>
<circle cx="757.7" cy="1012.2" r="7.07" fill="#f5f4f0" stroke="#000" stroke-width="2.3"/>
<circle cx="766.9" cy="1009.3" r="7.07" fill="#f6eac9" stroke="#000" stroke-width="2.3"/>
<circle cx="777.3" cy="1004.1" r="7.07" fill="#f6eac9" stroke="#000" stroke-width="2.3"/>
<circle cx="760.5" cy="1023.7" r="7.07" fill="#f5f4f0" stroke="#000" stroke-width="2.3"/>
<circle cx="802.0" cy="1023.1" r="7.07" fill="#f5f4f0" stroke="#000" stroke-width="2.3"/>
<circle cx="806.1" cy="1029.5" r="7.07" fill="#f5f4f0" stroke="#000" stroke-width="2.3"/>
<circle cx="811.8" cy="1046.2" r="7.07" fill="#f5f4f0" stroke="#000" stroke-width="2.3"/>
<circle cx="831.4" cy="1046.2" r="7.07" fill="#f5f4f0" stroke="#000" stroke-width="2.3"/>
<circle cx="845.2" cy="1064.1" r="7.07" fill="#f5f4f0" stroke="#000" stroke-width="2.3"/>
<circle cx="894.8" cy="1095.8" r="7.07" fill="#f5f4f0" stroke="#000" stroke-width="2.3"/>
<circle cx="917.9" cy="1097.5" r="7.07" fill="#f5f4f0" stroke="#000" stroke-width="2.3"/>
<circle cx="930.0" cy="1098.1" r="7.07" fill="#f5f4f0" stroke="#000" stroke-width="2.3"/>
<circle cx="942.9" cy="1107.3" r="7.07" fill="#f5f4f0" stroke="#000" stroke-width="2.3"/>
<circle cx="945.2" cy="1115.9" r="7.07" fill="#f5f4f0" stroke="#000" stroke-width="2.3"/>
<circle cx="964.2" cy="1121.7" r="7.07" fill="#f5f4f0" stroke="#000" stroke-width="2.3"/>
<circle cx="975.8" cy="1123.4" r="7.07" fill="#f5f4f0" stroke="#000" stroke-width="2.3"/>
<circle cx="986.7" cy="1132.1" r="7.07" fill="#f5f4f0" stroke="#000" stroke-width="2.3"/>
<circle cx="993.6" cy="1133.8" r="7.07" fill="#f5f4f0" stroke="#000" stroke-width="2.3"/>
<circle cx="1005.1" cy="1138.4" r="7.07" fill="#f5f4f0" stroke="#000" stroke-width="2.3"/>
<circle cx="1029.3" cy="1148.8" r="7.07" fill="#f5f4f0" stroke="#000" stroke-width="2.3"/>
<circle cx="1039.7" cy="1156.3" r="7.07" fill="#f5f4f0" stroke="#000" stroke-width="2.3"/>
<circle cx="1048.9" cy="1158.0" r="7.07" fill="#f5f4f0" stroke="#000" stroke-width="2.3"/>
<circle cx="1052.4" cy="1162.0" r="7.07" fill="#f5f4f0" stroke="#000" stroke-width="2.3"/>
<circle cx="1071.5" cy="1168.3" r="7.07" fill="#f5f4f0" stroke="#000" stroke-width="2.3"/>
<circle cx="1101.2" cy="1178.6" r="7.07" fill="#f5f4f0" stroke="#000" stroke-width="2.3"/>
<circle cx="1116.5" cy="1183.7" r="7.07" fill="#f5f4f0" stroke="#000" stroke-width="2.3"/>
<circle cx="1134.0" cy="1192.1" r="7.07" fill="#f5f4f0" stroke="#000" stroke-width="2.3"/>
<circle cx="1141.1" cy="1195.3" r="7.07" fill="#f5f4f0" stroke="#000" stroke-width="2.3"/>
<polyline points="304.3,635.8 443.0,723.5 600.0,791.5 756.0,855.2 905.2,915.8 941.0,928.5" fill="none" stroke="#F5B027" stroke-width="3.646" stroke-dasharray="13.49 5.83"/>
<polyline points="303.8,635.6 420.0,743.5 507.5,817.3 545.0,845.8 600.3,888.9 670.3,938.0 745.5,989.1 815.5,1030.8 891.3,1079.0 976.3,1124.6 1053.5,1159.1 1101.7,1179.6 1142.0,1196.3" fill="none" stroke="#90EE90" stroke-width="3.646" stroke-dasharray="13.49 5.83"/>
</g>
<rect x="262.50" y="584.80" width="920.80" height="640.70" fill="none" stroke="#000" stroke-width="1.944" stroke-linejoin="miter"/>
<line x1="303.90" y1="1225.50" x2="303.90" y2="1234.01" stroke="#000" stroke-width="1.944"/>
<line x1="504.90" y1="1225.50" x2="504.90" y2="1234.01" stroke="#000" stroke-width="1.944"/>
<line x1="705.90" y1="1225.50" x2="705.90" y2="1234.01" stroke="#000" stroke-width="1.944"/>
<line x1="906.90" y1="1225.50" x2="906.90" y2="1234.01" stroke="#000" stroke-width="1.944"/>
<line x1="1107.90" y1="1225.50" x2="1107.90" y2="1234.01" stroke="#000" stroke-width="1.944"/>
<line x1="253.99" y1="636.20" x2="262.50" y2="636.20" stroke="#000" stroke-width="1.944"/>
<line x1="253.99" y1="748.45" x2="262.50" y2="748.45" stroke="#000" stroke-width="1.944"/>
<line x1="253.99" y1="860.70" x2="262.50" y2="860.70" stroke="#000" stroke-width="1.944"/>
<line x1="253.99" y1="972.95" x2="262.50" y2="972.95" stroke="#000" stroke-width="1.944"/>
<line x1="253.99" y1="1085.20" x2="262.50" y2="1085.20" stroke="#000" stroke-width="1.944"/>
<line x1="253.99" y1="1197.45" x2="262.50" y2="1197.45" stroke="#000" stroke-width="1.944"/>
<rect x="780.30" y="596.95" width="390.85" height="151.90" rx="4.86" ry="4.86" fill="#fff" fill-opacity="0.8" stroke="#d6d6d6" stroke-width="1.944"/>
<line x1="789.69" y1="617.17" x2="838.31" y2="617.17" stroke="#F5B027" stroke-width="3.646" stroke-dasharray="13.49 5.83"/>
<line x1="789.69" y1="653.32" x2="838.31" y2="653.32" stroke="#90EE90" stroke-width="3.646" stroke-dasharray="13.49 5.83"/>
<circle cx="814.00" cy="691.60" r="8.59" fill="#543005"/>
<circle cx="814.00" cy="727.75" r="7.5" fill="#f4f5f5" stroke="#000" stroke-width="2.43"/>
<rect x="1241.00" y="584.80" width="33.00" height="640.70" fill="url(#cbg)"/>
<rect x="1241.00" y="584.80" width="33.00" height="640.70" fill="none" stroke="#000" stroke-width="1.944" stroke-linejoin="miter"/>
<line x1="1274.00" y1="1156.73" x2="1282.51" y2="1156.73" stroke="#000" stroke-width="1.944"/>
<line x1="1274.00" y1="1072.87" x2="1282.51" y2="1072.87" stroke="#000" stroke-width="1.944"/>
<line x1="1274.00" y1="989.01" x2="1282.51" y2="989.01" stroke="#000" stroke-width="1.944"/>
<line x1="1274.00" y1="905.15" x2="1282.51" y2="905.15" stroke="#000" stroke-width="1.944"/>
<line x1="1274.00" y1="821.29" x2="1282.51" y2="821.29" stroke="#000" stroke-width="1.944"/>
<line x1="1274.00" y1="737.43" x2="1282.51" y2="737.43" stroke="#000" stroke-width="1.944"/>
<line x1="1274.00" y1="653.57" x2="1282.51" y2="653.57" stroke="#000" stroke-width="1.944"/>
<rect x="1618.96" y="995.50" width="43.64" height="97.55" fill="#008000"/>
<rect x="1837.15" y="995.50" width="43.64" height="46.44" fill="#008000"/>
<rect x="2055.33" y="995.50" width="43.64" height="142.43" fill="#008000"/>
<rect x="2273.51" y="613.98" width="43.64" height="381.52" fill="#008000"/>
<rect x="2491.69" y="995.50" width="43.64" height="92.21" fill="#008000"/>
<rect x="1662.60" y="995.50" width="43.64" height="154.43" fill="#90ee90"/>
<rect x="1880.78" y="995.50" width="43.64" height="37.55" fill="#90ee90"/>
<rect x="2098.96" y="995.50" width="43.64" height="135.32" fill="#90ee90"/>
<rect x="2317.15" y="613.98" width="43.64" height="381.52" fill="#90ee90"/>
<rect x="2535.33" y="995.50" width="43.64" height="51.33" fill="#90ee90"/>
<rect x="1706.24" y="995.50" width="43.64" height="0.00" fill="#f5b027"/>
<rect x="1924.42" y="995.50" width="43.64" height="86.44" fill="#f5b027"/>
<rect x="2142.60" y="995.50" width="43.64" height="199.76" fill="#f5b027"/>
<rect x="2360.78" y="615.09" width="43.64" height="380.41" fill="#f5b027"/>
<rect x="2578.96" y="995.50" width="43.64" height="93.10" fill="#f5b027"/>
<rect x="1749.87" y="995.50" width="43.64" height="149.76" fill="#1f77b4"/>
<rect x="1968.05" y="995.50" width="43.64" height="94.21" fill="#1f77b4"/>
<rect x="2186.24" y="995.50" width="43.64" height="62.88" fill="#1f77b4"/>
<rect x="2404.42" y="700.20" width="43.64" height="295.30" fill="#1f77b4"/>
<rect x="2622.60" y="982.17" width="43.64" height="13.33" fill="#1f77b4"/>
<line x1="1706.24" y1="584.80" x2="1706.24" y2="1225.40" stroke="#b0b0b0" stroke-width="1.944"/>
<line x1="1924.42" y1="584.80" x2="1924.42" y2="1225.40" stroke="#b0b0b0" stroke-width="1.944"/>
<line x1="2142.60" y1="584.80" x2="2142.60" y2="1225.40" stroke="#b0b0b0" stroke-width="1.944"/>
<line x1="2360.78" y1="584.80" x2="2360.78" y2="1225.40" stroke="#b0b0b0" stroke-width="1.944"/>
<line x1="2578.96" y1="584.80" x2="2578.96" y2="1225.40" stroke="#b0b0b0" stroke-width="1.944"/>
<line x1="1566.60" y1="1217.70" x2="2718.60" y2="1217.70" stroke="#b0b0b0" stroke-width="1.944"/>
<line x1="1566.60" y1="1106.60" x2="2718.60" y2="1106.60" stroke="#b0b0b0" stroke-width="1.944"/>
<line x1="1566.60" y1="995.50" x2="2718.60" y2="995.50" stroke="#b0b0b0" stroke-width="1.944"/>
<line x1="1566.60" y1="884.40" x2="2718.60" y2="884.40" stroke="#b0b0b0" stroke-width="1.944"/>
<line x1="1566.60" y1="773.30" x2="2718.60" y2="773.30" stroke="#b0b0b0" stroke-width="1.944"/>
<line x1="1566.60" y1="662.20" x2="2718.60" y2="662.20" stroke="#b0b0b0" stroke-width="1.944"/>
<rect x="1566.60" y="584.80" width="1152.00" height="640.60" fill="none" stroke="#000" stroke-width="1.944" stroke-linejoin="miter"/>
<line x1="1706.24" y1="1225.40" x2="1706.24" y2="1233.91" stroke="#000" stroke-width="1.944"/>
<line x1="1924.42" y1="1225.40" x2="1924.42" y2="1233.91" stroke="#000" stroke-width="1.944"/>
<line x1="2142.60" y1="1225.40" x2="2142.60" y2="1233.91" stroke="#000" stroke-width="1.944"/>
<line x1="2360.78" y1="1225.40" x2="2360.78" y2="1233.91" stroke="#000" stroke-width="1.944"/>
<line x1="2578.96" y1="1225.40" x2="2578.96" y2="1233.91" stroke="#000" stroke-width="1.944"/>
<line x1="1558.09" y1="1217.70" x2="1566.60" y2="1217.70" stroke="#000" stroke-width="1.944"/>
<line x1="1558.09" y1="1106.60" x2="1566.60" y2="1106.60" stroke="#000" stroke-width="1.944"/>
<line x1="1558.09" y1="995.50" x2="1566.60" y2="995.50" stroke="#000" stroke-width="1.944"/>
<line x1="1558.09" y1="884.40" x2="1566.60" y2="884.40" stroke="#000" stroke-width="1.944"/>
<line x1="1558.09" y1="773.30" x2="1566.60" y2="773.30" stroke="#000" stroke-width="1.944"/>
<line x1="1558.09" y1="662.20" x2="1566.60" y2="662.20" stroke="#000" stroke-width="1.944"/>
<rect x="1578.75" y="596.95" width="319.65" height="151.90" rx="4.86" ry="4.86" fill="#fff" fill-opacity="0.8" stroke="#d6d6d6" stroke-width="1.944"/>
<rect x="1588.47" y="608.66" width="48.61" height="17.01" fill="#008000"/>
<rect x="1588.47" y="644.81" width="48.61" height="17.01" fill="#90ee90"/>
<rect x="1588.47" y="680.97" width="48.61" height="17.01" fill="#F5B027"/>
<rect x="1588.47" y="717.12" width="48.61" height="17.01" fill="#1f77b4"/>
<g fill="#000">
<text x="285.13" y="1261.51" font-size="25.521" textLength="37.42" lengthAdjust="spacingAndGlyphs" fill="#000">0.0</text>
<text x="486.21" y="1261.51" font-size="25.521" textLength="36.75" lengthAdjust="spacingAndGlyphs" fill="#000">0.1</text>
<text x="687.20" y="1261.51" font-size="25.521" textLength="36.82" lengthAdjust="spacingAndGlyphs" fill="#000">0.2</text>
<text x="888.20" y="1261.51" font-size="25.521" textLength="37.06" lengthAdjust="spacingAndGlyphs" fill="#000">0.3</text>
<text x="1089.20" y="1261.51" font-size="25.521" textLength="37.13" lengthAdjust="spacingAndGlyphs" fill="#000">0.4</text>
<text x="230.61" y="645.70" font-size="25.521" textLength="14.15" lengthAdjust="spacingAndGlyphs" fill="#000">0</text>
<text x="210.91" y="757.95" font-size="25.521" textLength="33.76" lengthAdjust="spacingAndGlyphs" fill="#000">−5</text>
<text x="195.46" y="870.20" font-size="25.521" textLength="49.29" lengthAdjust="spacingAndGlyphs" fill="#000">−10</text>
<text x="195.59" y="982.45" font-size="25.521" textLength="49.05" lengthAdjust="spacingAndGlyphs" fill="#000">−15</text>
<text x="195.46" y="1094.70" font-size="25.521" textLength="49.29" lengthAdjust="spacingAndGlyphs" fill="#000">−20</text>
<text x="195.59" y="1206.95" font-size="25.521" textLength="49.05" lengthAdjust="spacingAndGlyphs" fill="#000">−25</text>
<text x="676.54" y="1295.24" font-size="25.521" textLength="92.61" lengthAdjust="spacingAndGlyphs" fill="#000">Change</text>
<text transform="translate(178.61 981.47) rotate(-90)" x="0" y="0" font-size="25.521" textLength="152.60" lengthAdjust="spacingAndGlyphs" fill="#000">ELUC (tC/ha)</text>
<text x="324.78" y="570.22" font-size="30.625" textLength="795.87" lengthAdjust="spacingAndGlyphs" fill="#000">a) Pareto Front of Crop Change-Minimizing Prescriptors</text>
<text x="1292.33" y="1166.23" font-size="25.521" textLength="87.51" lengthAdjust="spacingAndGlyphs" fill="#000">−0.075</text>
<text x="1292.32" y="1082.37" font-size="25.521" textLength="88.03" lengthAdjust="spacingAndGlyphs" fill="#000">−0.050</text>
<text x="1292.33" y="998.51" font-size="25.521" textLength="87.51" lengthAdjust="spacingAndGlyphs" fill="#000">−0.025</text>
<text x="1291.65" y="914.65" font-size="25.521" textLength="68.15" lengthAdjust="spacingAndGlyphs" fill="#000">0.000</text>
<text x="1291.66" y="830.79" font-size="25.521" textLength="67.63" lengthAdjust="spacingAndGlyphs" fill="#000">0.025</text>
<text x="1291.65" y="746.93" font-size="25.521" textLength="68.15" lengthAdjust="spacingAndGlyphs" fill="#000">0.050</text>
<text x="1291.66" y="663.07" font-size="25.521" textLength="67.63" lengthAdjust="spacingAndGlyphs" fill="#000">0.075</text>
<text transform="translate(1407.24 1049.30) rotate(-90)" x="0" y="0" font-size="25.521" textLength="289.72" lengthAdjust="spacingAndGlyphs" fill="#000">Crop Change Difference</text>
<text transform="translate(1713.44 1347.71) rotate(-90)" x="0" y="0" font-size="25.521" textLength="104.35" lengthAdjust="spacingAndGlyphs" fill="#000">crop_diff</text>
<text transform="translate(1931.62 1356.64) rotate(-90)" x="0" y="0" font-size="25.521" textLength="113.24" lengthAdjust="spacingAndGlyphs" fill="#000">pastr_diff</text>
<text transform="translate(2149.80 1364.86) rotate(-90)" x="0" y="0" font-size="25.521" textLength="121.41" lengthAdjust="spacingAndGlyphs" fill="#000">range_diff</text>
<text transform="translate(2367.98 1358.80) rotate(-90)" x="0" y="0" font-size="25.521" textLength="115.50" lengthAdjust="spacingAndGlyphs" fill="#000">secdf_diff</text>
<text transform="translate(2586.16 1365.67) rotate(-90)" x="0" y="0" font-size="25.521" textLength="122.43" lengthAdjust="spacingAndGlyphs" fill="#000">secdn_diff</text>
<text x="1476.36" y="1227.20" font-size="25.521" textLength="72.41" lengthAdjust="spacingAndGlyphs" fill="#000">−0.10</text>
<text x="1476.37" y="1116.10" font-size="25.521" textLength="72.17" lengthAdjust="spacingAndGlyphs" fill="#000">−0.05</text>
<text x="1495.95" y="1005.00" font-size="25.521" textLength="52.79" lengthAdjust="spacingAndGlyphs" fill="#000">0.00</text>
<text x="1496.09" y="893.90" font-size="25.521" textLength="52.26" lengthAdjust="spacingAndGlyphs" fill="#000">0.05</text>
<text x="1496.08" y="782.80" font-size="25.521" textLength="52.79" lengthAdjust="spacingAndGlyphs" fill="#000">0.10</text>
<text x="1496.21" y="671.70" font-size="25.521" textLength="52.26" lengthAdjust="spacingAndGlyphs" fill="#000">0.15</text>
<text x="1832.44" y="570.22" font-size="30.625" textLength="620.34" lengthAdjust="spacingAndGlyphs" fill="#000">b) Average Recommendations Comparison</text>
<text x="857.95" y="625.67" font-size="25.521" textLength="211.15" lengthAdjust="spacingAndGlyphs" fill="#000">No Crop Heuristic</text>
<text x="857.90" y="661.83" font-size="25.521" textLength="198.93" lengthAdjust="spacingAndGlyphs" fill="#000">Perfect Heuristic</text>
<text x="858.00" y="697.98" font-size="25.521" textLength="246.35" lengthAdjust="spacingAndGlyphs" fill="#000">Evolved Prescriptors</text>
<text x="858.12" y="734.13" font-size="25.521" textLength="304.61" lengthAdjust="spacingAndGlyphs" fill="#000">Outperforms &amp; Less Crop</text>
<text x="1656.06" y="625.67" font-size="25.521" textLength="173.77" lengthAdjust="spacingAndGlyphs" fill="#000">Even Heuristic</text>
<text x="1656.09" y="661.83" font-size="25.521" textLength="198.93" lengthAdjust="spacingAndGlyphs" fill="#000">Perfect Heuristic</text>
<text x="1656.13" y="697.98" font-size="25.521" textLength="211.15" lengthAdjust="spacingAndGlyphs" fill="#000">No Crop Heuristic</text>
<text x="1656.15" y="734.13" font-size="25.521" textLength="234.38" lengthAdjust="spacingAndGlyphs" fill="#000">Evolved Prescriptor</text>
</g>
</svg></body></html>
